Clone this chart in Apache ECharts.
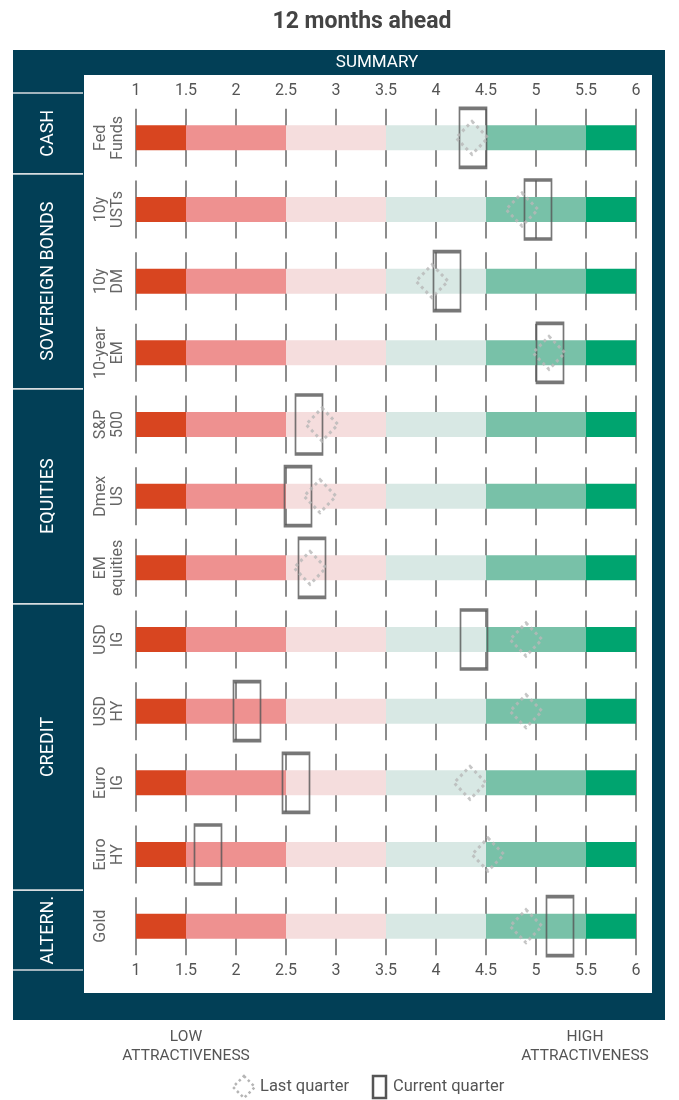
<!DOCTYPE html>
<html>
<head>
<meta charset="utf-8">
<script src="https://cdn.jsdelivr.net/npm/echarts@6/dist/echarts.min.js"></script>
<style>
  html, body { margin: 0; padding: 0; background: #fff; }
  #chart { width: 679px; height: 1100px; }
</style>
</head>
<body>
<div id="chart"></div>
<script>
// rows, top to bottom
var categories = ['Fed\nFunds', '10y\nUSTs', '10y\nDM', '10-year\nEM', 'S&P\n500', 'Dmex\nUS',
  'EM\nequities', 'USD\nIG', 'USD\nHY', 'Euro\nIG', 'Euro\nHY', 'Gold'];
var currentQuarter = [4.37, 5.02, 4.11, 5.14, 2.73, 2.62, 2.76, 4.38, 2.11, 2.60, 1.72, 5.24];
var lastQuarter = [4.36, 4.86, 3.96, 5.13, 2.86, 2.84, 2.74, 4.90, 4.90, 4.34, 4.52, 4.90];

// asset class groups on the left
var groupNames = ['CASH', 'SOVEREIGN BONDS', 'EQUITIES', 'CREDIT', 'ALTERN.'];
var groupFirstRow = [0, 1, 4, 7, 11];
var groupLastRow = [0, 3, 6, 10, 11];

// attractiveness bands and ticks
var bandEdges = [1, 1.5, 2.5, 3.5, 4.5, 5.5, 6];
var bandColors = ['#d84520', '#ee9190', '#f5dddd', '#d8e8e4', '#78c1a8', '#00a46f'];
var tickValues = [1, 1.5, 2, 2.5, 3, 3.5, 4, 4.5, 5, 5.5, 6];

var navy = '#023f56';
var font = 'Roboto, "Liberation Sans", sans-serif';

var chart = echarts.init(document.getElementById('chart'));

function renderRow(params, api) {
  var row = api.value(0);
  var y = api.coord([1, row])[1];
  var kids = [];
  // tick lines above / below the bar
  tickValues.forEach(function (t) {
    var x = api.coord([t, row])[0];
    kids.push({
      type: 'line',
      shape: { x1: x, y1: y - 29, x2: x, y2: y + 29 },
      style: { stroke: '#666', lineWidth: 1.5 }
    });
  });
  // colored bands
  for (var i = 0; i < bandColors.length; i++) {
    var x0 = api.coord([bandEdges[i], row])[0];
    var x1 = api.coord([bandEdges[i + 1], row])[0];
    kids.push({
      type: 'rect',
      shape: { x: x0, y: y - 12.5, width: x1 - x0, height: 25 },
      style: { fill: bandColors[i] }
    });
  }
  // row label, rotated
  kids.push({
    type: 'text',
    x: api.coord([1, row])[0] - 44,
    y: y,
    rotation: Math.PI / 2,
    style: {
      text: categories[row],
      align: 'center',
      verticalAlign: 'top',
      fontSize: 16,
      lineHeight: 17,
      fill: '#666',
      fontFamily: font
    }
  });
  return { type: 'group', children: kids };
}

function renderGroup(params, api) {
  var first = api.value(0);
  var last = api.value(1);
  var h = api.size([0, 1])[1];
  var top = api.coord([1, first])[1] - h / 2;
  var bottom = api.coord([1, last])[1] + h / 2;
  // outer separators sit a little beyond the row bands
  if (first === 0) top -= 9;
  if (last === categories.length - 1) bottom += 8;
  return {
    type: 'group',
    children: [
      { type: 'line', shape: { x1: 13, y1: top, x2: 83, y2: top }, style: { stroke: '#d8dde0', lineWidth: 1.5 } },
      { type: 'line', shape: { x1: 13, y1: bottom, x2: 83, y2: bottom }, style: { stroke: '#d8dde0', lineWidth: 1.5 } },
      {
        type: 'text',
        x: 48,
        y: (top + bottom) / 2,
        rotation: Math.PI / 2,
        style: {
          text: groupNames[params.dataIndex],
          align: 'center',
          verticalAlign: 'middle',
          fontSize: 18,
          fill: '#fff',
          fontFamily: font
        }
      }
    ]
  };
}

var axisCommon = {
  type: 'value',
  min: 1,
  max: 6,
  interval: 0.5,
  axisLine: { show: false },
  axisTick: { show: false },
  splitLine: { show: false },
  axisLabel: { color: '#555', fontSize: 16, fontFamily: font }
};

chart.setOption({
  animation: false,
  title: {
    text: '12 months ahead',
    left: 357,
    top: 6,
    textAlign: 'center',
    textStyle: { fontSize: 23, fontWeight: 'bold', color: '#444', fontFamily: font }
  },
  graphic: [
    { type: 'rect', z: -1, shape: { x: 13, y: 50, width: 652, height: 970 }, style: { fill: navy } },
    { type: 'rect', z: -1, shape: { x: 84, y: 75, width: 568, height: 918 }, style: { fill: '#fff' } },
    { type: 'text', x: 377, y: 63, style: { text: 'SUMMARY', align: 'center', verticalAlign: 'middle', fill: '#fff', fontSize: 17, fontFamily: font } },
    { type: 'text', x: 186, y: 1047, style: { text: 'LOW\nATTRACTIVENESS', align: 'center', verticalAlign: 'middle', fill: '#555', fontSize: 15.5, lineHeight: 19, fontFamily: font } },
    { type: 'text', x: 585, y: 1047, style: { text: 'HIGH\nATTRACTIVENESS', align: 'center', verticalAlign: 'middle', fill: '#555', fontSize: 15.5, lineHeight: 19, fontFamily: font } },
    { type: 'polygon', shape: { points: [[244, 1076], [255, 1087], [244, 1098], [233, 1087]] }, style: { fill: 'none', stroke: '#b5b5b5', lineWidth: 2.5, lineDash: [2.5, 3] } },
    { type: 'text', x: 260, y: 1087, style: { text: 'Last quarter', verticalAlign: 'middle', fill: '#555', fontSize: 16.5, fontFamily: font } },
    { type: 'rect', shape: { x: 373, y: 1076, width: 13, height: 22 }, style: { fill: 'none', stroke: '#555', lineWidth: 2.5 } },
    { type: 'text', x: 393, y: 1087, style: { text: 'Current quarter', verticalAlign: 'middle', fill: '#555', fontSize: 16.5, fontFamily: font } }
  ],
  grid: { left: 136, right: 43, top: 102, bottom: 138 },
  xAxis: [
    Object.assign({}, axisCommon, { position: 'bottom', axisLabel: Object.assign({}, axisCommon.axisLabel, { margin: 1 }) }),
    Object.assign({}, axisCommon, { position: 'top', axisLabel: Object.assign({}, axisCommon.axisLabel, { margin: 3 }) })
  ],
  yAxis: {
    type: 'category',
    inverse: true,
    data: categories,
    axisLine: { show: false },
    axisTick: { show: false },
    axisLabel: { show: false },
    splitLine: { show: false }
  },
  series: [
    {
      type: 'custom',
      name: 'rows',
      renderItem: renderRow,
      encode: { y: 0 },
      data: categories.map(function (c, i) { return [i]; }),
      silent: true
    },
    {
      type: 'custom',
      name: 'groups',
      renderItem: renderGroup,
      encode: { y: [0, 1] },
      data: groupNames.map(function (g, i) { return [groupFirstRow[i], groupLastRow[i]]; }),
      silent: true,
      clip: false
    },
    {
      type: 'scatter',
      name: 'Current quarter',
      symbol: 'rect',
      symbolSize: [27, 59],
      data: currentQuarter.map(function (v, i) { return [v, i]; }),
      itemStyle: { color: 'rgba(0,0,0,0)', borderColor: '#555', borderWidth: 2.5 },
      silent: true,
      z: 3
    },
    {
      type: 'scatter',
      name: 'Last quarter',
      symbol: 'diamond',
      symbolSize: [32, 33],
      data: lastQuarter.map(function (v, i) { return [v, i]; }),
      itemStyle: { color: 'rgba(0,0,0,0)', borderColor: '#b8b8b8', borderWidth: 3, borderType: [3, 3.5] },
      silent: true,
      z: 4
    }
  ]
});
</script>
</body>
</html>
